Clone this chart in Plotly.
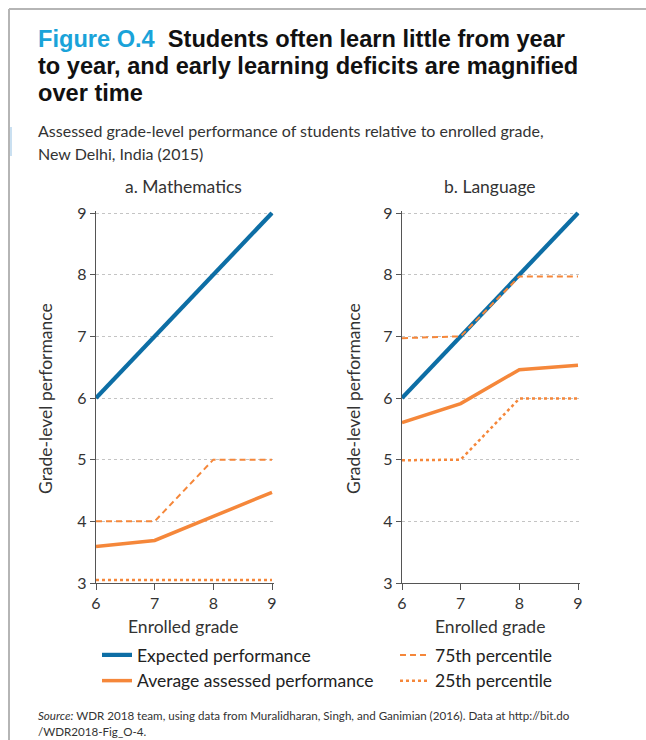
import plotly.graph_objects as go

# ---- data ----
grades = [6, 7, 8, 9]
math_expected = [6, 7, 8, 9]
math_average = [3.59, 3.69, 4.08, 4.47]
math_p75 = [4.0, 4.0, 5.0, 5.0]
math_p25 = [3.05, 3.05, 3.05, 3.05]
lang_expected = [6, 7, 8, 9]
lang_average = [5.60, 5.91, 6.46, 6.53]
lang_p75 = [6.97, 7.0, 7.97, 7.97]
lang_p25 = [4.99, 5.0, 5.99, 5.99]
y_ticks = [3, 4, 5, 6, 7, 8, 9]
x_ticks = [6, 7, 8, 9]
panel_titles = ["a. Mathematics", "b. Language"]

W, H = 646, 740
BLUE = "#0d6ea5"
ORANGE = "#f5873a"
CYAN = "#1aa3d9"
FONT = "Lato"
TITLE_FONT = "Liberation Sans"


def px(x):
    return x / W


def py(y):
    return 1 - y / H


fig = go.Figure()

panels = [
    ("x", "y", math_expected, math_average, math_p75, math_p25, True),
    ("x2", "y2", lang_expected, lang_average, lang_p75, lang_p25, False),
]
for xa, ya, exp, avg, p75, p25, show in panels:
    fig.add_trace(go.Scatter(x=grades, y=exp, mode="lines", name="Expected performance",
                             line=dict(color=BLUE, width=4.2), xaxis=xa, yaxis=ya,
                             showlegend=show, legend="legend"))
    fig.add_trace(go.Scatter(x=grades, y=avg, mode="lines", name="Average assessed performance",
                             line=dict(color=ORANGE, width=3.5), xaxis=xa, yaxis=ya,
                             showlegend=show, legend="legend"))
    fig.add_trace(go.Scatter(x=grades, y=p75, mode="lines", name="75th percentile",
                             line=dict(color=ORANGE, width=2, dash="6px,4px"), xaxis=xa, yaxis=ya,
                             showlegend=show, legend="legend2"))
    fig.add_trace(go.Scatter(x=grades, y=p25, mode="lines", name="25th percentile",
                             line=dict(color=ORANGE, width=2.5, dash="dot"), xaxis=xa, yaxis=ya,
                             showlegend=show, legend="legend2"))

yax = dict(range=[3, 9.03], tickvals=y_ticks, showgrid=True, gridcolor="#c4c4c4",
           griddash="dot", gridwidth=1, showline=True, linecolor="#555", linewidth=1.3,
           ticks="outside", ticklen=5, tickcolor="#555", tickwidth=1.3,
           tickfont=dict(size=16, color="#333", family=FONT), zeroline=False, automargin=False)
xax = dict(range=[6, 9.03], tickvals=x_ticks, showgrid=False, showline=True, linecolor="#555",
           linewidth=1.3, ticks="outside", ticklen=6, tickcolor="#555", tickwidth=1.3,
           tickfont=dict(size=16, color="#333", family=FONT), zeroline=False, automargin=False)

ydom = [py(583), py(583 - 370 * 6.03 / 6)]
fig.update_layout(
    xaxis=dict(xax, domain=[px(96), px(96 + 176 * 3.03 / 3)], anchor="y"),
    yaxis=dict(yax, domain=ydom, anchor="x"),
    xaxis2=dict(xax, domain=[px(402), px(402 + 176 * 3.03 / 3)], anchor="y2"),
    yaxis2=dict(yax, domain=ydom, anchor="x2"),
)

ann = []
# title
title_lines = [
    (39, f"<b><span style='color:{CYAN}'>Figure O.4</span>&nbsp; Students often learn little from year</b>"),
    (66, "<b>to year, and early learning deficits are magnified</b>"),
    (93, "<b>over time</b>"),
]
for yy, t in title_lines:
    ann.append(dict(text=t, x=px(36), y=py(yy), xref="paper", yref="paper", xanchor="left",
                    yanchor="middle", showarrow=False,
                    font=dict(size=23.6, color="#111", family=TITLE_FONT)))
for yy, t in [(131, "Assessed grade-level performance of students relative to enrolled grade,"),
              (153, "New Delhi, India (2015)")]:
    ann.append(dict(text=t, x=px(36), y=py(yy), xref="paper", yref="paper", xanchor="left",
                    yanchor="middle", showarrow=False, font=dict(size=16, color="#333", family=FONT)))
# panel titles
for cx, t in zip([183, 490], panel_titles):
    ann.append(dict(text=t, x=px(cx), y=py(186), xref="paper", yref="paper", xanchor="center",
                    yanchor="middle", showarrow=False, font=dict(size=17.5, color="#333", family=FONT)))
    ann.append(dict(text="Enrolled grade", x=px(cx), y=py(626), xref="paper", yref="paper",
                    xanchor="center", yanchor="middle", showarrow=False,
                    font=dict(size=17.5, color="#333", family=FONT)))
for cx in [45, 353]:
    ann.append(dict(text="Grade-level performance", x=px(cx), y=py(399), xref="paper", yref="paper",
                    xanchor="center", yanchor="middle", textangle=-90, showarrow=False,
                    font=dict(size=17.5, color="#333", family=FONT)))
# source
for yy, t in [(715, "<i>Source:</i> WDR 2018 team, using data from Muralidharan, Singh, and Ganimian (2016). Data at http://bit.do"),
              (731, "/WDR2018-Fig_O-4.")]:
    ann.append(dict(text=t, x=px(36), y=py(yy), xref="paper", yref="paper", xanchor="left",
                    yanchor="middle", showarrow=False, font=dict(size=11.6, color="#333", family=FONT)))

shapes = [
    dict(type="line", xref="paper", yref="paper", x0=px(9), x1=1.01, y0=py(9), y1=py(9),
         line=dict(color="#b5b5b5", width=2)),
    dict(type="line", xref="paper", yref="paper", x0=px(9), x1=px(9), y0=py(9), y1=-0.01,
         line=dict(color="#b5b5b5", width=2)),
    dict(type="line", xref="paper", yref="paper", x0=px(11), x1=px(11), y0=py(127), y1=py(156),
         line=dict(color="#b9d6ec", width=1.5)),
]

legend_common = dict(orientation="v", xanchor="left", yanchor="top", bgcolor="rgba(0,0,0,0)",
                     font=dict(size=17.5, color="#222", family=FONT), itemwidth=30,
                     tracegroupgap=0)
fig.update_layout(
    width=W, height=H,
    margin=dict(l=0, r=0, t=0, b=0),
    paper_bgcolor="white", plot_bgcolor="white",
    font=dict(family=FONT, color="#333"),
    annotations=ann, shapes=shapes,
    legend=dict(legend_common, x=px(97), y=py(637)),
    legend2=dict(legend_common, x=px(395), y=py(637)),
)

fig.write_html("out.html", config={"displayModeBar": False},
               post_script="document.body.style.margin='0px';document.body.style.overflow='hidden';")
